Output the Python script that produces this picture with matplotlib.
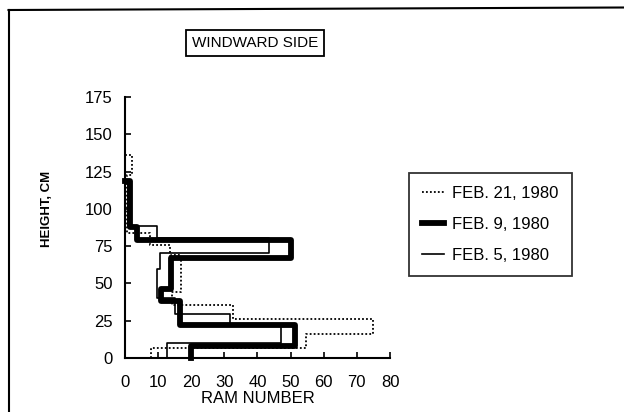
import numpy as np
import matplotlib
matplotlib.use("Agg")
import matplotlib.pyplot as plt
from matplotlib.lines import Line2D

plt.rcParams['font.family'] = ['Liberation Sans', 'DejaVu Sans']

# height bin edges (cm) and ram numbers per bin
feb21_edges = [0, 6.7, 16, 26, 35.6, 44, 69, 75.5, 84, 123, 136]
feb21_ram = [8, 54.7, 74.8, 32.7, 14.2, 16.8, 13.6, 7.5, 0.5, 2]

feb9_edges = [0, 8, 22, 38, 46, 67, 79, 88, 119]
feb9_ram = [20, 51.4, 16.7, 10.8, 13.8, 50, 3.7, 1.5]

feb5_edges = [0, 10, 21.7, 29.5, 40, 60, 70.5, 80.5, 88.6, 117]
feb5_ram = [12.6, 47, 31.7, 15.2, 9.6, 10.6, 43.4, 9.6, 1.0]

labels = ['FEB. 21, 1980', 'FEB. 9, 1980', 'FEB. 5, 1980']
x_ticks = np.arange(0, 81, 10)
y_ticks = np.arange(0, 176, 25)


def profile(edges, vals):
    # step outline: starts on the axis, closes back to x=0 at the top
    y = np.repeat(edges, 2)[1:-1]
    x = np.repeat(vals, 2)
    x = np.append(x, 0)
    y = np.append(y, edges[-1])
    return x, y


styles = [dict(lw=1.3, ls=(0, (1, 1.2))), dict(lw=4.2), dict(lw=1.2)]

fig = plt.figure(figsize=(6.24, 4.12), dpi=100)
ax = fig.add_axes([0.2003, 0.131, 0.4247, 0.6336])

for (e, v), st in zip([(feb21_edges, feb21_ram), (feb9_edges, feb9_ram),
                       (feb5_edges, feb5_ram)], styles):
    px, py = profile(e, v)
    ax.plot(px, py, color='black', clip_on=False, **st)

ax.set_xlim(0, 80)
ax.set_ylim(0, 175)
ax.set_xticks(x_ticks)
ax.set_yticks(y_ticks)
ax.tick_params(direction='in', length=4, width=1.2, labelsize=12)
ax.tick_params(axis='y', pad=9)
ax.tick_params(axis='x', pad=12)
for s in ['top', 'right']:
    ax.spines[s].set_visible(False)
for s in ['left', 'bottom']:
    ax.spines[s].set_linewidth(1.5)

ax.set_xlabel('RAM NUMBER', fontsize=12, labelpad=1)
ax.set_ylabel('HEIGHT, CM', fontsize=9.5, fontweight='bold')
ax.yaxis.set_label_coords(-0.272, 0.57)

fig.text(0.409, 0.896, 'WINDWARD SIDE', fontsize=11, ha='center', va='center',
         bbox=dict(boxstyle='square,pad=0.4', fc='white', ec='black', lw=1.3))

handles = [Line2D([], [], color='black', **st) for st in styles]
leg = fig.legend(handles, labels, loc='upper left',
                 bbox_to_anchor=(409 / 624, 1 - 173 / 412),
                 fontsize=12, frameon=True, fancybox=False,
                 edgecolor='black', handlelength=1.3, handletextpad=0.5,
                 labelspacing=0.95, borderpad=0.8, borderaxespad=0)
leg.get_frame().set_linewidth(1.3)

# page border lines of the scan
fig.add_artist(Line2D([8.5 / 624, 1], [1 - 10 / 412, 1 - 7.5 / 412],
                      transform=fig.transFigure, color='black', lw=1.5))
fig.add_artist(Line2D([8.5 / 624, 8.5 / 624], [1 - 10 / 412, 0],
                      transform=fig.transFigure, color='black', lw=1.5))

fig.savefig('out.png', dpi=100)
